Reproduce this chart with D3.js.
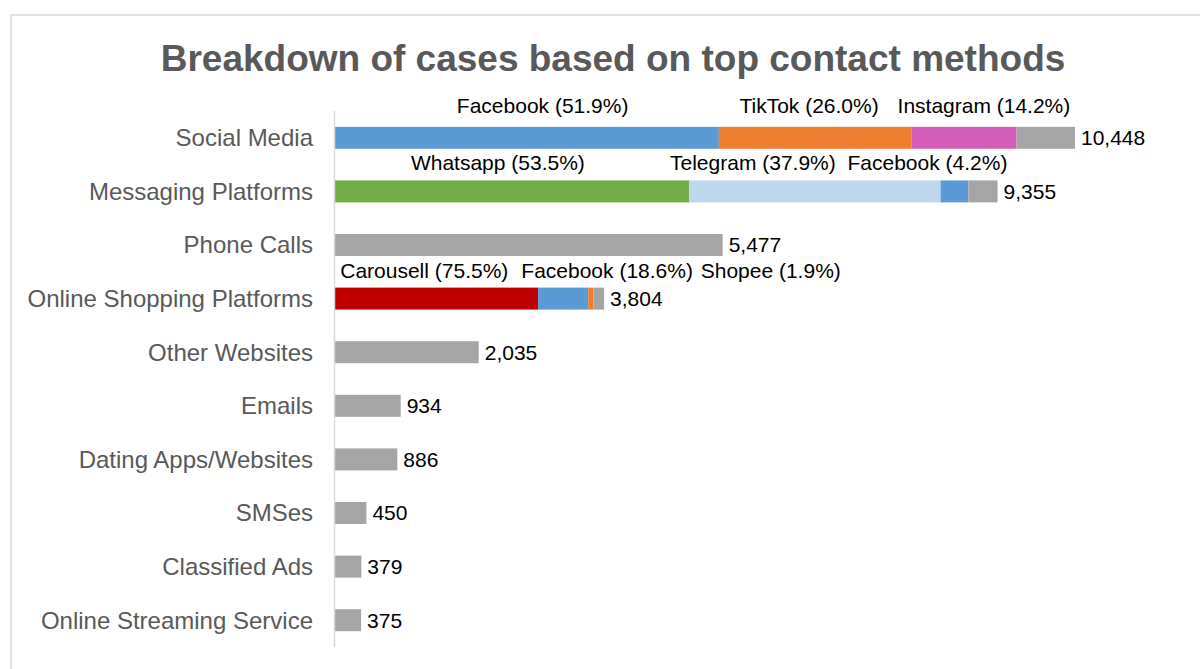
<!DOCTYPE html>
<html>
<head>
<meta charset="utf-8">
<script src="https://cdn.jsdelivr.net/npm/d3@7"></script>
<style>
  body { margin: 0; background: #fff; }
  text { font-family: Arial, "Liberation Sans", sans-serif; }
</style>
</head>
<body>
<div class="bar-chart"></div>
<script>
// categories and totals
var categories = ['Social Media', 'Messaging Platforms', 'Phone Calls', 'Online Shopping Platforms',
  'Other Websites', 'Emails', 'Dating Apps/Websites', 'SMSes', 'Classified Ads', 'Online Streaming Service'];
var totals = [10448, 9355, 5477, 3804, 2035, 934, 886, 450, 379, 375];

// breakdown of the top platforms (percent of the row total)
var socialPlatforms = ['Facebook', 'TikTok', 'Instagram'];
var socialShares = [51.9, 26.0, 14.2];
var messagingPlatforms = ['Whatsapp', 'Telegram', 'Facebook'];
var messagingShares = [53.5, 37.9, 4.2];
var shoppingPlatforms = ['Carousell', 'Facebook', 'Shopee'];
var shoppingShares = [75.5, 18.6, 1.9];

var breakdowns = {
  'Social Media': { names: socialPlatforms, shares: socialShares },
  'Messaging Platforms': { names: messagingPlatforms, shares: messagingShares },
  'Online Shopping Platforms': { names: shoppingPlatforms, shares: shoppingShares }
};

var colors = {
  Facebook: '#5b9bd5', TikTok: '#ed7d31', Instagram: '#d45fb8',
  Whatsapp: '#70ad47', Telegram: '#bdd7ee', Carousell: '#c00000',
  Shopee: '#ed7d31', Other: '#a5a5a5'
};

// hand placement of the segment labels (px), like the dragged labels in the original
var labelNudge = {
  'Social Media': { dx: [16, -6, 20], gap: 14 },
  'Messaging Platforms': { dx: [-14, -62, -27], gap: 10 },
  'Online Shopping Platforms': { dx: [-12, 44, 180], gap: 10 }
};

var width = 1200, height = 669;

var svg = d3.select('.bar-chart').append('svg')
    .attr('width', width)
    .attr('height', height);

svg.append('rect')
    .attr('x', 11).attr('y', 15)
    .attr('width', 1250).attr('height', 700)
    .attr('fill', 'none')
    .attr('stroke', '#d9d9d9')
    .attr('stroke-width', 1.5);

svg.append('text')
    .attr('x', 613).attr('y', 71)
    .attr('text-anchor', 'middle')
    .attr('font-size', 37)
    .attr('font-weight', 'bold')
    .attr('fill', '#595959')
    .text('Breakdown of cases based on top contact methods');

var xScale = d3.scaleLinear()
  .domain([0, d3.max(totals)])
  .range([334.5, 1075]);

var yScale = d3.scaleBand()
  .domain(categories)
  .range([111, 647])
  .paddingInner(0.59)
  .paddingOuter(0.295);

// build the stacked segments per row
var segments = [];
categories.forEach(function(cat, i) {
  var total = totals[i];
  var start = 0;
  var b = breakdowns[cat];
  if (b) {
    b.names.forEach(function(name, j) {
      var v = total * b.shares[j] / 100;
      segments.push({ cat: cat, name: name, share: b.shares[j], x0: start, x1: start + v, idx: j });
      start += v;
    });
  }
  segments.push({ cat: cat, name: 'Other', x0: start, x1: total, idx: -1 });
});

svg.selectAll('.seg')
    .data(segments)
  .enter().append('rect')
    .attr('class', 'seg')
    .attr('x', function(d) { return xScale(d.x0); })
    .attr('y', function(d) { return yScale(d.cat); })
    .attr('width', function(d) { return xScale(d.x1) - xScale(d.x0); })
    .attr('height', yScale.bandwidth())
    .attr('fill', function(d) { return colors[d.name]; });

// vertical axis line
svg.append('line')
    .attr('x1', 334.5).attr('x2', 334.5)
    .attr('y1', 111).attr('y2', 647)
    .attr('stroke', '#d9d9d9')
    .attr('stroke-width', 1.5);

svg.selectAll('.cat')
    .data(categories)
  .enter().append('text')
    .attr('class', 'cat')
    .attr('x', 313)
    .attr('y', function(d) { return yScale(d) + yScale.bandwidth() / 2; })
    .attr('dy', '0.35em')
    .attr('text-anchor', 'end')
    .attr('font-size', 24)
    .attr('fill', '#595959')
    .text(function(d) { return d; });

svg.selectAll('.val')
    .data(totals)
  .enter().append('text')
    .attr('class', 'val')
    .attr('x', function(d) { return xScale(d) + 6; })
    .attr('y', function(d, i) { return yScale(categories[i]) + yScale.bandwidth() / 2; })
    .attr('dy', '0.35em')
    .attr('font-size', 21)
    .attr('fill', '#000')
    .text(function(d) { return d3.format(',')(d); });

svg.selectAll('.seglabel')
    .data(segments.filter(function(d) { return d.idx >= 0; }))
  .enter().append('text')
    .attr('class', 'seglabel')
    .attr('x', function(d) {
      return (xScale(d.x0) + xScale(d.x1)) / 2 + labelNudge[d.cat].dx[d.idx];
    })
    .attr('y', function(d) { return yScale(d.cat) - labelNudge[d.cat].gap; })
    .attr('text-anchor', 'middle')
    .attr('font-size', 21)
    .attr('fill', '#000')
    .text(function(d) { return d.name + ' (' + d.share.toFixed(1) + '%)'; });
</script>
</body>
</html>
